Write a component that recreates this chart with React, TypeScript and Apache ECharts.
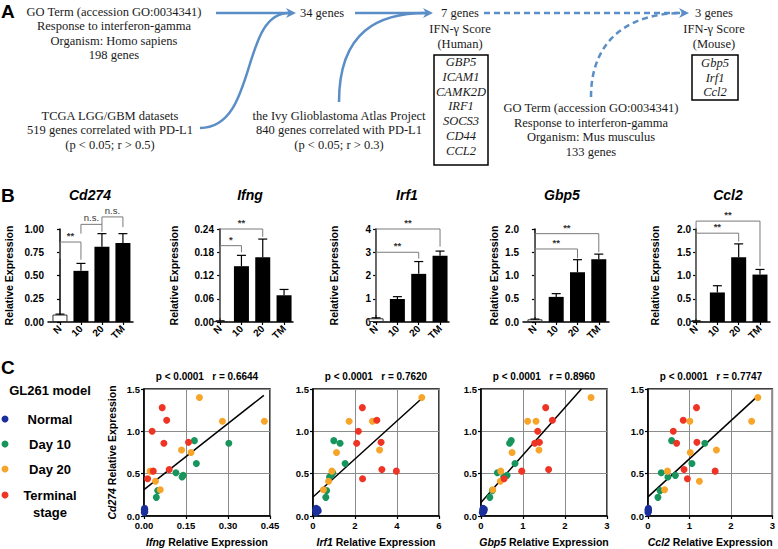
import React, { useEffect, useRef } from 'react';
import * as echarts from 'echarts';

// ---------- DATA ----------
const barCategories = ['N', '10', '20', 'TM'];
const barGenes = ['Cd274', 'Ifng', 'Irf1', 'Gbp5', 'Ccl2'];
const cd274Means = [0.08, 0.55, 0.81, 0.85];
const cd274Sem = [0.005, 0.08, 0.14, 0.1];
const ifngMeans = [0.002, 0.144, 0.167, 0.069];
const ifngSem = [0.001, 0.028, 0.047, 0.015];
const irf1Means = [0.16, 0.99, 2.07, 2.85];
const irf1Sem = [0.02, 0.1, 0.53, 0.2];
const gbp5Means = [0.058, 0.54, 1.07, 1.35];
const gbp5Sem = [0.005, 0.07, 0.27, 0.11];
const ccl2Means = [0.02, 0.635, 1.39, 1.02];
const ccl2Sem = [0.005, 0.145, 0.29, 0.11];
const barYMax = [1, 0.24, 4, 2, 2];
const barYInterval = [0.25, 0.06, 1, 0.5, 0.5];
const barYDecimals = [2, 2, 0, 1, 1];

// [fromIndex, toIndex, top, leftLegEnd, rightLegEnd, label]
type Bracket = [number, number, number, number, number, string];
const cd274Brackets: Bracket[] = [
  [0, 1, 0.86, 0.68, 0.67, '**'],
  [1, 2, 1.05, 0.95, 0.97, 'n.s.'],
  [2, 3, 1.13, 1.05, 1.02, 'n.s.'],
];
const ifngBrackets: Bracket[] = [
  [0, 2, 0.24, 0.01, 0.22, '**'],
  [0, 1, 0.197, 0.01, 0.18, '*'],
];
const irf1Brackets: Bracket[] = [
  [0, 3, 4.0, 0.3, 3.24, '**'],
  [0, 2, 3.0, 0.3, 2.73, '**'],
];
const gbp5Brackets: Bracket[] = [
  [0, 3, 1.9, 0.11, 1.5, '**'],
  [0, 2, 1.57, 0.11, 1.37, '**'],
];
const ccl2Brackets: Bracket[] = [
  [0, 3, 2.17, 0.07, 1.2, '**'],
  [0, 2, 1.91, 0.07, 1.73, '**'],
];

const groupNames = ['Normal', 'Day 10', 'Day 20', 'Terminal stage'];
// Cd274 relative expression (y) per mouse
const normalCd274 = [0.09, 0.08, 0.07, 0.06, 0.05, 0.04];
const day10Cd274 = [0.89, 0.86, 0.62, 0.51, 0.48, 0.46, 0.3, 0.22];
const day20Cd274 = [1.4, 1.12, 1.12, 0.78, 0.75, 0.53, 0.41, 0.31];
const terminalCd274 = [1.28, 1.13, 1.0, 0.86, 0.87, 0.55, 0.53, 0.44];

const normalIfng = [0.002, 0.003, 0.001, 0.002, 0.003, 0.001];
const day10Ifng = [0.18, 0.303, 0.187, 0.114, 0.14, 0.136, 0.049, 0.044];
const day20Ifng = [0.198, 0.28, 0.43, 0.134, 0.168, 0.022, 0.041, 0.058];
const terminalIfng = [0.065, 0.081, 0.029, 0.071, 0.159, 0.09, 0.033, 0.013];

const normalIrf1 = [0.15, 0.22, 0.12, 0.25, 0.18, 0.14];
const day10Irf1 = [0.99, 1.29, 1.53, 0.94, 0.87, 0.79, 0.65, 0.61];
const day20Irf1 = [5.18, 1.72, 2.83, 3.17, 1.12, 0.9, 0.74, 0.5];
const terminalIrf1 = [2.35, 3.04, 2.16, 2.08, 3.24, 3.28, 3.97, 2.36];

const normalGbp5 = [0.05, 0.08, 0.04, 0.07, 0.06, 0.03];
const day10Gbp5 = [0.72, 0.68, 0.81, 0.39, 0.62, 0.54, 0.27, 0.21];
const day20Gbp5 = [2.62, 1.11, 1.31, 1.38, 0.74, 0.47, 0.46, 0.28];
const terminalGbp5 = [1.54, 1.7, 1.35, 1.28, 1.39, 1.61, 0.97, 0.55];

const normalCcl2 = [0.01, 0.005, 0.0, 0.01, 0.005, 0.0];
const day10Ccl2 = [0.57, 1.37, 1.06, 0.32, 0.66, 0.48, 0.29, 0.24];
const day20Ccl2 = [2.65, 2.5, 1.01, 1.65, 1.02, 0.47, 1.24, 0.4];
const terminalCcl2 = [1.17, 0.85, 0.61, 0.69, 1.18, 0.87, 1.62, 0.95];

const scatterGenes = ['Ifng', 'Irf1', 'Gbp5', 'Ccl2'];
const scatterPValues = ['p < 0.0001', 'p < 0.0001', 'p < 0.0001', 'p < 0.0001'];
const scatterRValues = ['0.6644', '0.7620', '0.8960', '0.7747'];
const scatterXMax = [0.45, 6, 3, 3];
const scatterXInterval = [0.15, 2, 1, 1];
const scatterXDecimals = [2, 0, 0, 0];
const fitIfng = [[0, 0.311], [0.428, 1.425]];
const fitIrf1 = [[0, 0.225], [5.23, 1.4]];
const fitGbp5 = [[0, 0.16], [2.39, 1.5]];
const fitCcl2 = [[0, 0.226], [2.64, 1.413]];

// ---------- STYLE / LAYOUT ----------
const SANS = 'Liberation Sans, Arial, sans-serif';
const SERIF = 'Liberation Serif, Times New Roman, serif';
const groupColors = ['#1b2f9c', '#17955c', '#f7a42a', '#ee3424'];
const arrowColor = '#5b8ec7';
const barLayout = [
  { left: 48, width: 85, min: -0.57, max: 3.48, nameGap: 34, titleX: 90 },
  { left: 218, width: 75, min: -0.1, max: 3.42, nameGap: 39, titleX: 250 },
  { left: 375, width: 74, min: -0.05, max: 3.42, nameGap: 36, titleX: 407 },
  { left: 523, width: 86, min: -0.56, max: 3.48, nameGap: 24, titleX: 562 },
  { left: 695, width: 75, min: -0.05, max: 3.47, nameGap: 35, titleX: 728 },
];
const scatterLefts = [144, 313, 481, 648];

function buildOption() {
  const barMeans = [cd274Means, ifngMeans, irf1Means, gbp5Means, ccl2Means];
  const barSems = [cd274Sem, ifngSem, irf1Sem, gbp5Sem, ccl2Sem];
  const barBrackets = [cd274Brackets, ifngBrackets, irf1Brackets, gbp5Brackets, ccl2Brackets];
  const ys = [normalCd274, day10Cd274, day20Cd274, terminalCd274];
  const xsByGene = [
    [normalIfng, day10Ifng, day20Ifng, terminalIfng],
    [normalIrf1, day10Irf1, day20Irf1, terminalIrf1],
    [normalGbp5, day10Gbp5, day20Gbp5, terminalGbp5],
    [normalCcl2, day10Ccl2, day20Ccl2, terminalCcl2],
  ];
  const fits = [fitIfng, fitIrf1, fitGbp5, fitCcl2];

  const grid: any[] = [];
  const xAxis: any[] = [];
  const yAxis: any[] = [];
  const series: any[] = [];
  const graphic: any[] = [];

  const axisLineStyle = { color: '#000', width: 1.5 };
  const tickLabel = { color: '#000', fontFamily: SANS, fontWeight: 'bold', fontSize: 10 };

  const errorRender = (params: any, api: any) => {
    const x = api.value(0), v = api.value(1), e = api.value(2);
    const p0 = api.coord([x, v]);
    const p1 = api.coord([x, v + e]);
    const st = { stroke: '#000', lineWidth: 1.2 };
    return {
      type: 'group',
      children: [
        { type: 'line', shape: { x1: p0[0], y1: p0[1], x2: p1[0], y2: p1[1] }, style: st },
        { type: 'line', shape: { x1: p1[0] - 4.5, y1: p1[1], x2: p1[0] + 4.5, y2: p1[1] }, style: st },
      ],
    };
  };
  const bracketRender = (brs: Bracket[]) => (params: any, api: any) => {
    const b = brs[params.dataIndex];
    const tl = api.coord([b[0], b[2]]);
    const tr = api.coord([b[1], b[2]]);
    const bl = api.coord([b[0], b[3]]);
    const br = api.coord([b[1], b[4]]);
    return {
      type: 'group',
      children: [
        { type: 'polyline', shape: { points: [bl, tl, tr, br] }, style: { stroke: '#7a7a7a', fill: null, lineWidth: 1 } },
        {
          type: 'text', x: (tl[0] + tr[0]) / 2, y: tl[1] - 1.5,
          style: { text: b[5], fill: '#333', fontSize: 9.5, fontFamily: SANS, fontWeight: b[5] === 'n.s.' ? 'normal' : 'bold', textAlign: 'center', textVerticalAlign: 'bottom', align: 'center', verticalAlign: 'bottom' },
        },
      ],
    };
  };

  // Panel B
  barGenes.forEach((gene, i) => {
    const L = barLayout[i];
    grid.push({ left: L.left, top: 229, width: L.width, height: 93 });
    xAxis.push({
      gridIndex: i, type: 'value', min: L.min, max: L.max,
      axisLine: { show: true, lineStyle: axisLineStyle },
      axisTick: { show: true, customValues: [0, 1, 2, 3], length: 3, lineStyle: { color: '#000', width: 1.2 } },
      axisLabel: { ...tickLabel, customValues: [0, 1, 2, 3], rotate: 45, margin: 5, formatter: (v: number) => barCategories[Math.round(v)] },
      splitLine: { show: false },
    });
    yAxis.push({
      gridIndex: i, type: 'value', min: 0, max: barYMax[i], interval: barYInterval[i],
      name: 'Relative Expression', nameLocation: 'middle', nameGap: L.nameGap,
      nameTextStyle: { color: '#000', fontFamily: SANS, fontWeight: 'bold', fontSize: 10.5 },
      axisLine: { show: true, lineStyle: axisLineStyle },
      axisTick: { show: true, length: 3, lineStyle: { color: '#000', width: 1.2 } },
      axisLabel: { ...tickLabel, margin: 4, formatter: (v: number) => v.toFixed(barYDecimals[i]) },
      splitLine: { show: false },
    });
    series.push({
      type: 'bar', xAxisIndex: i, yAxisIndex: i, barWidth: 15,
      data: barMeans[i].map((m, k) => ({
        value: [k, m],
        itemStyle: k === 0 ? { color: '#fff', borderColor: '#333', borderWidth: 1 } : { color: '#000' },
      })),
    });
    series.push({
      type: 'custom', xAxisIndex: i, yAxisIndex: i, z: 3, renderItem: errorRender,
      data: barMeans[i].map((m, k) => [k, m, barSems[i][k]]),
    });
    series.push({
      type: 'custom', xAxisIndex: i, yAxisIndex: i, z: 4, clip: false, renderItem: bracketRender(barBrackets[i]),
      data: barBrackets[i].map((b) => [b[0], b[2]]),
    });
    graphic.push({
      type: 'text', x: L.titleX, y: 195,
      style: { text: gene, fontFamily: SANS, fontSize: 14, fontWeight: 'bold', fontStyle: 'italic', fill: '#000', textAlign: 'center', textVerticalAlign: 'middle' },
    });
  });

  // Panel C
  scatterGenes.forEach((gene, j) => {
    const gi = 5 + j;
    grid.push({ left: scatterLefts[j], top: 389, width: 126, height: 127, show: true, borderColor: '#000', borderWidth: 1.5, backgroundColor: 'transparent' });
    xAxis.push({
      gridIndex: gi, type: 'value', min: 0, max: scatterXMax[j], interval: scatterXInterval[j],
      name: `{i|${gene}} Relative Expression`, nameLocation: 'middle', nameGap: 20,
      nameTextStyle: { color: '#000', fontFamily: SANS, fontWeight: 'bold', fontSize: 10.5, rich: { i: { fontStyle: 'italic', fontWeight: 'bold', fontFamily: SANS, fontSize: 10.5, color: '#000' } } },
      axisLine: { show: true, lineStyle: axisLineStyle },
      axisTick: { show: true, length: 3, lineStyle: { color: '#000', width: 1.2 } },
      axisLabel: { ...tickLabel, fontSize: 9.5, margin: 4, formatter: (v: number) => v.toFixed(scatterXDecimals[j]) },
      splitLine: { show: true, lineStyle: { color: '#8c8c8c', width: 1 } },
    });
    yAxis.push({
      gridIndex: gi, type: 'value', min: 0, max: 1.5, interval: 0.5,
      name: j === 0 ? '{i|Cd274} Relative Expression' : '', nameLocation: 'middle', nameGap: 27,
      nameTextStyle: { color: '#000', fontFamily: SANS, fontWeight: 'bold', fontSize: 10.5, rich: { i: { fontStyle: 'italic', fontWeight: 'bold', fontFamily: SANS, fontSize: 10.5, color: '#000' } } },
      axisLine: { show: true, lineStyle: axisLineStyle },
      axisTick: { show: true, length: 3, lineStyle: { color: '#000', width: 1.2 } },
      axisLabel: { ...tickLabel, fontSize: 9.5, margin: 4, formatter: (v: number) => v.toFixed(1) },
      splitLine: { show: true, lineStyle: { color: '#8c8c8c', width: 1 } },
    });
    series.push({
      type: 'line', xAxisIndex: gi, yAxisIndex: gi, data: fits[j], showSymbol: false, symbol: 'none',
      lineStyle: { color: '#000', width: 1.5 }, z: 3, silent: true,
    });
    groupNames.forEach((g, k) => {
      series.push({
        type: 'scatter', name: g, xAxisIndex: gi, yAxisIndex: gi, symbolSize: 7, clip: false, z: 4,
        itemStyle: { color: groupColors[k], opacity: 1 },
        data: xsByGene[j][k].map((x, m) => [x, ys[k][m]]),
      });
    });
    graphic.push({
      type: 'text', x: scatterLefts[j] + 63, y: 376,
      style: { text: `${scatterPValues[j]}   r = ${scatterRValues[j]}`, fontFamily: SANS, fontSize: 10, fontWeight: 'bold', fill: '#000', textAlign: 'center', textVerticalAlign: 'middle' },
    });
  });

  // Legend (panel C)
  graphic.push({
    type: 'text', x: 50, y: 390,
    style: { text: 'GL261 model', fontFamily: SANS, fontSize: 13, fontWeight: 'bold', fill: '#000', textAlign: 'center', textVerticalAlign: 'middle' },
  });
  const legendY = [419, 444, 469, 495];
  const legendLabels = ['Normal', 'Day 10', 'Day 20', 'Terminal\nstage'];
  groupNames.forEach((g, k) => {
    graphic.push({ type: 'circle', shape: { cx: 5, cy: legendY[k], r: 3.5 }, style: { fill: groupColors[k] } });
    graphic.push({
      type: 'text', x: 50, y: legendY[k] - 8.5,
      style: { text: legendLabels[k], fontFamily: SANS, fontSize: 13, fontWeight: 'bold', fill: '#000', textAlign: 'center', textVerticalAlign: 'top', lineHeight: 17 },
    });
  });

  // Panel labels
  const panelLabel = (t: string, y: number) => ({
    type: 'text', x: 1, y,
    style: { text: t, fontFamily: SANS, fontSize: 19, fontWeight: 'bold', fill: '#000', textAlign: 'left', textVerticalAlign: 'middle' },
  });
  graphic.push(panelLabel('A', 11), panelLabel('B', 195), panelLabel('C', 367));

  // Panel A texts
  const block = (x: number, firstY: number, lh: number, text: string, extra: any = {}) => ({
    type: 'text', x, y: firstY - lh / 2,
    style: { text, fontFamily: SERIF, fontSize: 12.5, fill: '#1a1a1a', textAlign: 'center', textVerticalAlign: 'top', lineHeight: lh, ...extra },
  });
  graphic.push(block(114, 12, 14.3, 'GO Term (accession GO:0034341)\nResponse to interferon-gamma\nOrganism: Homo sapiens\n198 genes'));
  graphic.push(block(110, 116, 14.3, 'TCGA LGG/GBM datasets\n519 genes correlated with PD-L1\n(p < 0.05; r > 0.5)'));
  graphic.push(block(322, 13, 14.3, '34 genes'));
  graphic.push(block(339, 116, 14.3, 'the Ivy Glioblastoma Atlas Project\n840 genes correlated with PD-L1\n(p < 0.05; r > 0.3)'));
  graphic.push(block(460, 13, 15.5, '7 genes\nIFN-γ Score\n(Human)'));
  graphic.push(block(461, 62, 14.75, 'GBP5\nICAM1\nCAMK2D\nIRF1\nSOCS3\nCD44\nCCL2', { fontStyle: 'italic' }));
  graphic.push({ type: 'rect', shape: { x: 434, y: 55, width: 54, height: 110 }, style: { fill: 'none', stroke: '#000', lineWidth: 1.5 } });
  graphic.push(block(714, 13, 15.5, '3 genes\nIFN-γ Score\n(Mouse)'));
  graphic.push(block(715, 63, 14.5, 'Gbp5\nIrf1\nCcl2', { fontStyle: 'italic' }));
  graphic.push({ type: 'rect', shape: { x: 692, y: 55, width: 46, height: 45 }, style: { fill: 'none', stroke: '#000', lineWidth: 1.5 } });
  graphic.push(block(591, 108.5, 14.4, 'GO Term (accession GO:0034341)\nResponse to interferon-gamma\nOrganism: Mus musculus\n133 genes'));

  // Panel A arrows
  const solid = { stroke: arrowColor, lineWidth: 2.5, fill: null };
  const dashed = { stroke: arrowColor, lineWidth: 2.5, fill: null, lineDash: [6, 4] };
  const head = (tx: number, ty: number) => ({
    type: 'polygon', shape: { points: [[tx, ty], [tx - 10, ty - 5], [tx - 7, ty], [tx - 10, ty + 5]] }, style: { fill: arrowColor },
  });
  graphic.push({ type: 'line', shape: { x1: 216, y1: 13, x2: 289, y2: 13 }, style: solid });
  graphic.push({ type: 'bezierCurve', shape: { x1: 200, y1: 128, cpx1: 258, cpy1: 128, cpx2: 240, cpy2: 13, x2: 289, y2: 13 }, style: solid });
  graphic.push(head(296, 13));
  graphic.push({ type: 'line', shape: { x1: 355, y1: 13, x2: 426, y2: 13 }, style: solid });
  graphic.push({ type: 'bezierCurve', shape: { x1: 339, y1: 102, cpx1: 339, cpy1: 30, cpx2: 380, cpy2: 13, x2: 426, y2: 13 }, style: solid });
  graphic.push(head(433, 13));
  graphic.push({ type: 'line', shape: { x1: 484, y1: 13, x2: 682, y2: 13 }, style: dashed });
  graphic.push({ type: 'bezierCurve', shape: { x1: 591, y1: 97, cpx1: 591, cpy1: 35, cpx2: 635, cpy2: 13, x2: 682, y2: 13 }, style: dashed });
  graphic.push(head(689, 13));

  return {
    animation: false,
    backgroundColor: '#fff',
    textStyle: { fontFamily: SANS },
    grid, xAxis, yAxis, series, graphic,
  };
}

export default function App() {
  const ref = useRef<HTMLDivElement>(null);
  useEffect(() => {
    const chart = echarts.init(ref.current as HTMLDivElement, null, { renderer: 'svg' });
    chart.setOption(buildOption() as any);
    return () => chart.dispose();
  }, []);
  return <div ref={ref} style={{ position: 'absolute', left: 0, top: 0, width: 778, height: 549, background: '#fff' }} />;
}
